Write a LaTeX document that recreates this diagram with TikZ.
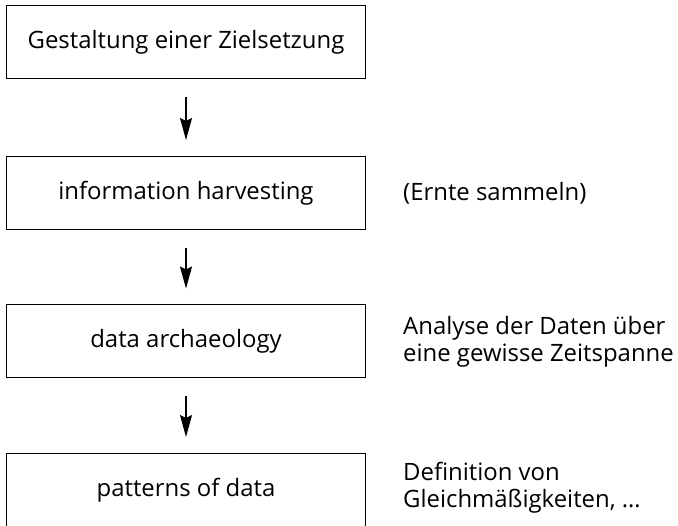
\documentclass[tikz,border=0pt]{standalone}
\usepackage{fontspec}
\setmainfont{Open Sans}
\usetikzlibrary{arrows.meta, positioning}

\begin{document}
\begin{tikzpicture}[x=1bp,y=1bp, >={Stealth[length=22bp,width=12bp,inset=3bp]},
  box/.style={draw, line width=1bp, minimum width=358bp, minimum height=73bp,
    inner sep=0pt, font=\fontsize{24}{27}\selectfont},
  note/.style={anchor=west, align=left, inner sep=0pt,
    font=\fontsize{24}{27}\selectfont},
  flow/.style={->, line width=1.6bp, shorten <=18bp, shorten >=16bp}]

  \useasboundingbox (0,0) rectangle (678,526);

  %--- Kästen
  \node[box] (ziel)    at (186,483.5) {Gestaltung einer Zielsetzung};
  \node[box] (harvest) at (186,333)   {information harvesting};
  \node[box] (archae)  at (186,184.5) {data archaeology};
  \node[box] (pattern) at (186,36)    {patterns of data};

  %--- Erläuterungen rechts
  \node[note] (ernte)   at (403,333)   {(Ernte sammeln)};
  \node[note] (analyse) at (403,184.5) {Analyse der Daten über\\eine gewisse Zeitspanne};
  \node[note] (defin)   at (403,38)    {Definition von\\Gleichmäßigkeiten, …};

  %--- Pfeile
  \draw[flow] (ziel) -- (harvest);
  \draw[flow] (harvest) -- (archae);
  \draw[flow] (archae) -- (pattern);
\end{tikzpicture}
\end{document}
